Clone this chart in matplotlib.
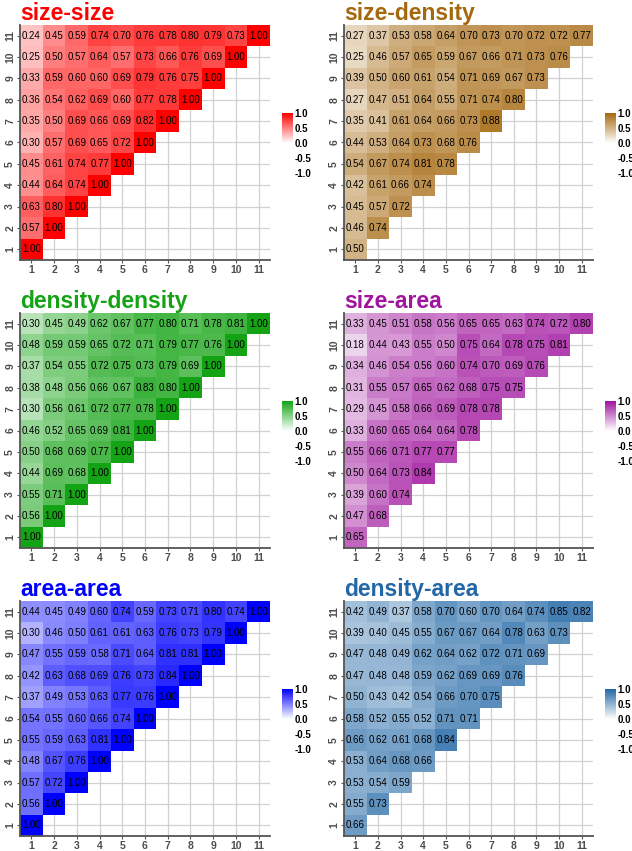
import numpy as np
import matplotlib
matplotlib.use("Agg")
import matplotlib.pyplot as plt
from matplotlib.colors import LinearSegmentedColormap, Normalize
from matplotlib.cm import ScalarMappable

plt.rcParams['font.family'] = ['Liberation Sans', 'DejaVu Sans']

tick_labels = [str(i) for i in range(1, 12)]
legend_ticks = [1.0, 0.5, 0.0, -0.5, -1.0]

# lower triangle of each matrix, row 1 (bottom) up to row 11 (top)
size_size = [
    [1.00],
    [0.57, 1.00],
    [0.63, 0.80, 1.00],
    [0.44, 0.64, 0.74, 1.00],
    [0.45, 0.61, 0.74, 0.77, 1.00],
    [0.30, 0.57, 0.69, 0.65, 0.72, 1.00],
    [0.35, 0.50, 0.69, 0.66, 0.69, 0.82, 1.00],
    [0.36, 0.54, 0.62, 0.69, 0.60, 0.77, 0.78, 1.00],
    [0.33, 0.59, 0.60, 0.60, 0.69, 0.79, 0.76, 0.75, 1.00],
    [0.25, 0.50, 0.57, 0.64, 0.57, 0.73, 0.66, 0.76, 0.69, 1.00],
    [0.24, 0.45, 0.59, 0.74, 0.70, 0.76, 0.78, 0.80, 0.79, 0.73, 1.00],
]

size_density = [
    [0.50],
    [0.46, 0.74],
    [0.45, 0.57, 0.72],
    [0.42, 0.61, 0.66, 0.74],
    [0.54, 0.67, 0.74, 0.81, 0.78],
    [0.44, 0.53, 0.64, 0.73, 0.68, 0.76],
    [0.35, 0.41, 0.61, 0.64, 0.66, 0.73, 0.88],
    [0.27, 0.47, 0.51, 0.64, 0.55, 0.71, 0.74, 0.80],
    [0.39, 0.50, 0.60, 0.61, 0.54, 0.71, 0.69, 0.67, 0.73],
    [0.25, 0.46, 0.57, 0.65, 0.59, 0.67, 0.66, 0.71, 0.73, 0.76],
    [0.27, 0.37, 0.53, 0.58, 0.64, 0.70, 0.73, 0.70, 0.72, 0.72, 0.77],
]

density_density = [
    [1.00],
    [0.56, 1.00],
    [0.55, 0.71, 1.00],
    [0.44, 0.69, 0.68, 1.00],
    [0.50, 0.68, 0.69, 0.77, 1.00],
    [0.46, 0.52, 0.65, 0.69, 0.81, 1.00],
    [0.30, 0.56, 0.61, 0.72, 0.77, 0.78, 1.00],
    [0.38, 0.48, 0.56, 0.66, 0.67, 0.83, 0.80, 1.00],
    [0.37, 0.54, 0.55, 0.72, 0.75, 0.73, 0.79, 0.69, 1.00],
    [0.48, 0.59, 0.59, 0.65, 0.72, 0.71, 0.79, 0.77, 0.76, 1.00],
    [0.30, 0.45, 0.49, 0.62, 0.67, 0.77, 0.80, 0.71, 0.78, 0.81, 1.00],
]

size_area = [
    [0.65],
    [0.47, 0.68],
    [0.39, 0.60, 0.74],
    [0.50, 0.64, 0.73, 0.84],
    [0.55, 0.66, 0.71, 0.77, 0.77],
    [0.33, 0.60, 0.65, 0.64, 0.64, 0.78],
    [0.29, 0.45, 0.58, 0.66, 0.69, 0.78, 0.78],
    [0.31, 0.55, 0.57, 0.65, 0.62, 0.68, 0.75, 0.75],
    [0.34, 0.46, 0.54, 0.56, 0.60, 0.74, 0.70, 0.69, 0.76],
    [0.18, 0.44, 0.43, 0.55, 0.50, 0.75, 0.64, 0.78, 0.75, 0.81],
    [0.33, 0.45, 0.51, 0.58, 0.56, 0.65, 0.65, 0.63, 0.74, 0.72, 0.80],
]

area_area = [
    [1.00],
    [0.56, 1.00],
    [0.57, 0.72, 1.00],
    [0.48, 0.67, 0.76, 1.00],
    [0.55, 0.59, 0.63, 0.81, 1.00],
    [0.54, 0.55, 0.60, 0.66, 0.74, 1.00],
    [0.37, 0.49, 0.53, 0.63, 0.77, 0.76, 1.00],
    [0.42, 0.63, 0.68, 0.69, 0.76, 0.73, 0.84, 1.00],
    [0.47, 0.55, 0.59, 0.58, 0.71, 0.64, 0.81, 0.81, 1.00],
    [0.30, 0.46, 0.50, 0.61, 0.61, 0.63, 0.76, 0.73, 0.79, 1.00],
    [0.44, 0.45, 0.49, 0.60, 0.74, 0.59, 0.73, 0.71, 0.80, 0.74, 1.00],
]

density_area = [
    [0.66],
    [0.55, 0.73],
    [0.53, 0.54, 0.59],
    [0.53, 0.64, 0.68, 0.66],
    [0.66, 0.62, 0.61, 0.68, 0.84],
    [0.58, 0.52, 0.55, 0.52, 0.71, 0.71],
    [0.50, 0.43, 0.42, 0.54, 0.66, 0.70, 0.75],
    [0.47, 0.48, 0.48, 0.59, 0.62, 0.69, 0.69, 0.76],
    [0.47, 0.48, 0.49, 0.62, 0.64, 0.62, 0.72, 0.71, 0.69],
    [0.39, 0.40, 0.45, 0.55, 0.67, 0.67, 0.64, 0.78, 0.63, 0.73],
    [0.42, 0.49, 0.37, 0.58, 0.70, 0.60, 0.70, 0.64, 0.74, 0.85, 0.82],
]

panels = [
    ("size-size", size_size, "#FF0000"),
    ("size-density", size_density, "#A5680F"),
    ("density-density", density_density, "#14A314"),
    ("size-area", size_area, "#A0149E"),
    ("area-area", area_area, "#0000FF"),
    ("density-area", density_area, "#2368A6"),
]

W, H = 632, 851
fig = plt.figure(figsize=(W / 100, H / 100), dpi=100)

col_x = [(20, 250), (344, 249)]
row_top = [25, 313, 601]
panel_h = 235


def px_box(x, top, w, h):
    return [x / W, 1 - (top + h) / H, w / W, h / H]


for k, (name, rows, color) in enumerate(panels):
    r, c = divmod(k, 2)
    x0, pw = col_x[c]
    top = row_top[r]
    ax = fig.add_axes(px_box(x0, top, pw, panel_h))

    n = len(rows)
    m = np.full((n, n), np.nan)
    for i, vals in enumerate(rows):
        m[i, :len(vals)] = vals

    cmap = LinearSegmentedColormap.from_list(name, ["white", "white", color])
    edges = np.arange(0.5, n + 1)
    ax.pcolormesh(edges, edges, np.ma.masked_invalid(m), cmap=cmap, vmin=-1, vmax=1)
    for i, vals in enumerate(rows):
        for j, v in enumerate(vals):
            ax.text(j + 1, i + 1, f"{v:.2f}", ha="center", va="center", fontsize=7, color="black")

    ax.set_xlim(0.5, n + 0.5)
    ax.set_ylim(0.5, n + 0.5)
    ax.set_xticks(range(1, n + 1))
    ax.set_yticks(range(1, n + 1))
    ax.set_xticklabels(tick_labels, fontsize=7.5, fontweight="bold", color="#4D4D4D")
    ax.set_yticklabels(tick_labels, fontsize=7.5, fontweight="bold", color="#4D4D4D",
                       rotation=90, va="center")
    ax.tick_params(length=2.5, width=0.8, color="#555555", pad=1)
    ax.grid(color="#D0D0D0", lw=0.9)
    ax.set_axisbelow(True)
    for s in ["top", "right"]:
        ax.spines[s].set_visible(False)
    for s in ["left", "bottom"]:
        ax.spines[s].set_color("#555555")
        ax.spines[s].set_linewidth(1.3)
    ax.set_title(name, loc="left", color=color, fontsize=16.5, fontweight="bold", pad=1)

    # legend bar: -1..1, lower half white
    cax = fig.add_axes(px_box(x0 + pw + 12, top + 88, 11, 60))
    cb = fig.colorbar(ScalarMappable(norm=Normalize(-1, 1), cmap=cmap), cax=cax,
                      ticks=legend_ticks)
    cb.outline.set_visible(False)
    cb.ax.set_yticklabels([f"{t:.1f}" for t in legend_ticks], fontsize=7,
                          fontweight="bold")
    cb.ax.tick_params(length=0, pad=1)

fig.savefig("out.png", dpi=100)
